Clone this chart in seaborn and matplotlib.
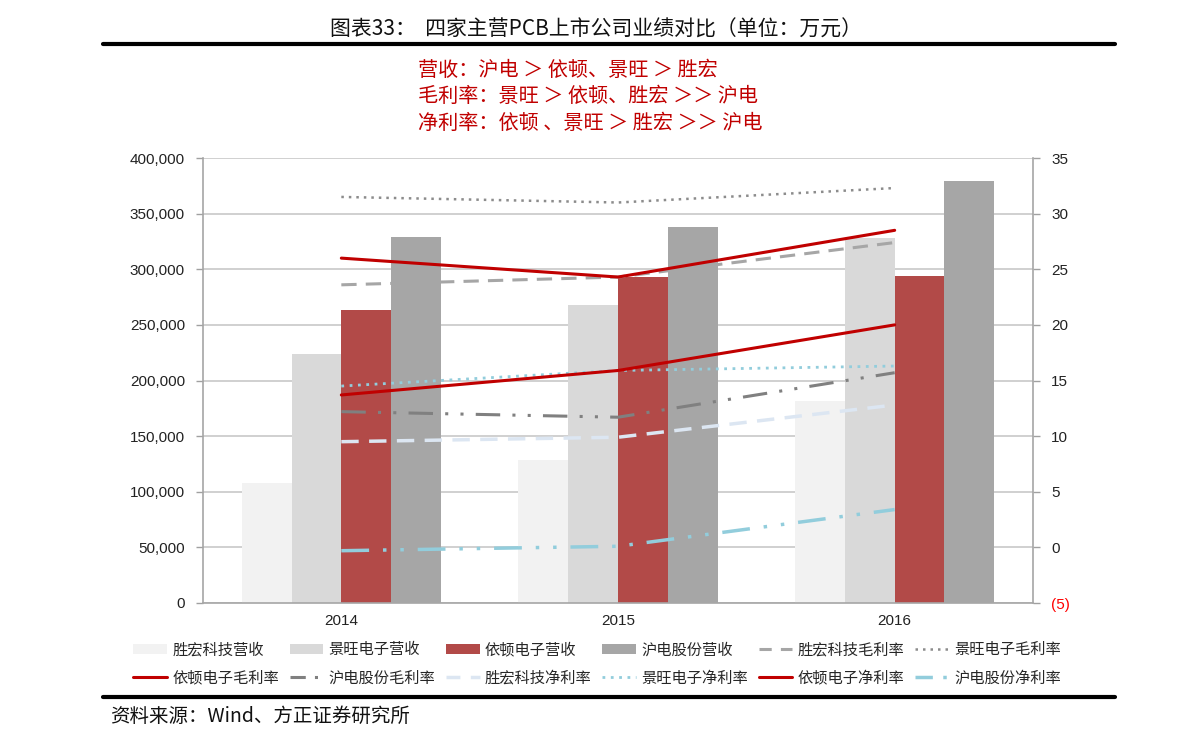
import numpy as np
import pandas as pd
import matplotlib
matplotlib.use("Agg")
import matplotlib.pyplot as plt
from matplotlib.lines import Line2D
from matplotlib.patches import Patch
import seaborn as sns

# ---------------- data ----------------
years = ["2014", "2015", "2016"]
companies_rev = ["胜宏科技营收", "景旺电子营收", "依顿电子营收", "沪电股份营收"]
rev_shenghong = [108000, 128500, 181500]
rev_jingwang = [224000, 268000, 328000]
rev_yidun = [263000, 293000, 294000]
rev_hudian = [329000, 338000, 379500]

gm_shenghong = [23.6, 24.3, 27.4]
gm_jingwang = [31.5, 31.0, 32.3]
gm_yidun = [26.0, 24.3, 28.5]
gm_hudian = [12.2, 11.7, 15.7]
nm_shenghong = [9.5, 9.9, 12.8]
nm_jingwang = [14.5, 15.9, 16.3]
nm_yidun = [13.7, 15.9, 20.0]
nm_hudian = [-0.3, 0.1, 3.4]

left_ticks = [0, 50000, 100000, 150000, 200000, 250000, 300000, 350000, 400000]
right_ticks = [-5, 0, 5, 10, 15, 20, 25, 30, 35]

title = "图表33：  四家主营PCB上市公司业绩对比（单位：万元）"
notes = ["营收：沪电 ＞ 依顿、景旺 ＞ 胜宏",
         "毛利率：景旺 ＞ 依顿、胜宏 ＞＞ 沪电",
         "净利率：依顿 、景旺 ＞ 胜宏 ＞＞ 沪电"]
source = "资料来源：Wind、方正证券研究所"

# ---------------- style ----------------
sns.set_theme(style="white")
plt.rcParams["font.family"] = ["Noto Sans CJK SC", "DejaVu Sans"]

bar_colors = ["#f2f2f2", "#d9d9d9", "#b24a48", "#a6a6a6"]

df = pd.DataFrame({
    "year": years * 4,
    "company": sum([[c] * 3 for c in companies_rev], []),
    "value": rev_shenghong + rev_jingwang + rev_yidun + rev_hudian,
})

fig = plt.figure(figsize=(11.91, 7.42), dpi=100)
ax = fig.add_axes([203 / 1191, 1 - 603 / 742, 830 / 1191, 445 / 742])

sns.barplot(data=df, x="year", y="value", hue="company", palette=bar_colors,
            width=0.72, ax=ax, legend=False, saturation=1, zorder=2)
for p in ax.patches:
    p.set_edgecolor("none")

ax.set_ylim(0, 400000)
ax.set_xlim(-0.5, 2.5)
ax.set_yticks(left_ticks)
ax.set_yticklabels([f"{v:,}" for v in left_ticks], fontfamily="Liberation Sans", fontsize=11, color="#222222")
ax.set_xlabel("")
ax.set_ylabel("")
ax.set_xticks([0, 1, 2])
ax.set_xticklabels(years, fontfamily="Liberation Sans", fontsize=11, color="#222222")
ax.set_xticks([-0.5, 0.5, 1.5, 2.5], minor=True)
ax.tick_params(axis="x", which="major", length=0, pad=8)
ax.tick_params(axis="x", which="minor", length=5, color="#a0a0a0", width=1, direction="out")
ax.tick_params(axis="y", length=5, color="#a0a0a0", width=1, direction="out", left=True, pad=8)
ax.grid(axis="y", color="#c8c8c8", linewidth=1.2, zorder=0)
ax.grid(axis="x", visible=False)
ax.set_axisbelow(True)
for side in ["top", "right"]:
    ax.spines[side].set_visible(False)
for side in ["left", "bottom"]:
    ax.spines[side].set_color("#a6a6a6")
    ax.spines[side].set_linewidth(1.2)

ax2 = ax.twinx()
ax2.set_ylim(-5, 35)
ax2.set_yticks(right_ticks)
ax2.set_yticklabels(["(5)" if v < 0 else str(v) for v in right_ticks],
                    fontfamily="Liberation Sans", fontsize=11, color="#222222")
ax2.get_yticklabels()[0].set_color("#ff0000")
ax2.tick_params(axis="y", length=5, color="#a0a0a0", width=1, direction="out", right=True, pad=8)
ax2.grid(False)
for side in ["top", "left", "bottom"]:
    ax2.spines[side].set_visible(False)
ax2.spines["right"].set_color("#a6a6a6")
ax2.spines["right"].set_linewidth(1.2)

xpos = np.arange(len(years))
dashdot = (0, (8, 4, 1, 4, 1, 4))
dashdot_leg = (0, (5, 3, 1, 3))
line_specs = [
    ("胜宏科技毛利率", gm_shenghong, "#a6a6a6", (0, (5, 3)), (0, (4, 3)), 2.2),
    ("景旺电子毛利率", gm_jingwang, "#8c8c8c", (0, (1, 2)), (0, (1, 2)), 1.8),
    ("依顿电子毛利率", gm_yidun, "#c00000", "-", "-", 2.2),
    ("沪电股份毛利率", gm_hudian, "#808080", dashdot, dashdot_leg, 2.2),
    ("胜宏科技净利率", nm_shenghong, "#dce6f2", (0, (5, 3)), (0, (4, 3)), 2.5),
    ("景旺电子净利率", nm_jingwang, "#92cddc", (0, (1, 2)), (0, (1, 2)), 2.0),
    ("依顿电子净利率", nm_yidun, "#c00000", "-", "-", 2.2),
    ("沪电股份净利率", nm_hudian, "#92cddc", dashdot, dashdot_leg, 2.5),
]
line_handles = []
for name, vals, col, ls, lls, lw in line_specs:
    sns.lineplot(x=xpos, y=vals, ax=ax2, color=col, linestyle=ls, linewidth=lw, legend=False)
    line_handles.append(Line2D([0], [0], color=col, linestyle=lls, linewidth=lw, label=name))
ax2.set_xlim(-0.5, 2.5)
ax2.set_ylim(-5, 35)

bar_handles = [Patch(facecolor=c, edgecolor="none", label=n) for c, n in zip(bar_colors, companies_rev)]
handles = bar_handles + line_handles
row1, row2 = handles[:6], handles[6:]
ordered = []
for a, b in zip(row1, row2):
    ordered += [a, b]
fig.legend(handles=ordered, labels=[h.get_label() for h in ordered], ncol=6,
           loc="center", bbox_to_anchor=(597 / 1191, 1 - 664 / 742), frameon=False,
           fontsize=11, handlelength=2.2, handletextpad=0.35, columnspacing=0.7,
           labelspacing=0.75)

# title, rules, notes, source
fig.text(0.5, 1 - 30 / 742, title, ha="center", va="center", fontsize=15, color="#111111")
fig.add_artist(Line2D([103 / 1191, 1115 / 1191], [1 - 44 / 742] * 2, color="black", linewidth=3))
for i, t in enumerate(notes):
    fig.text(418 / 1191, 1 - (70 + i * 26.5) / 742, t, ha="left", va="center",
             fontsize=14.5, color="#c00000")
fig.add_artist(Line2D([103 / 1191, 1115 / 1191], [1 - 697 / 742] * 2, color="black", linewidth=3))
fig.text(110 / 1191, 1 - 716 / 742, source, ha="left", va="center", fontsize=14,
         style="italic", color="#111111")

fig.savefig("out.png", dpi=100)
